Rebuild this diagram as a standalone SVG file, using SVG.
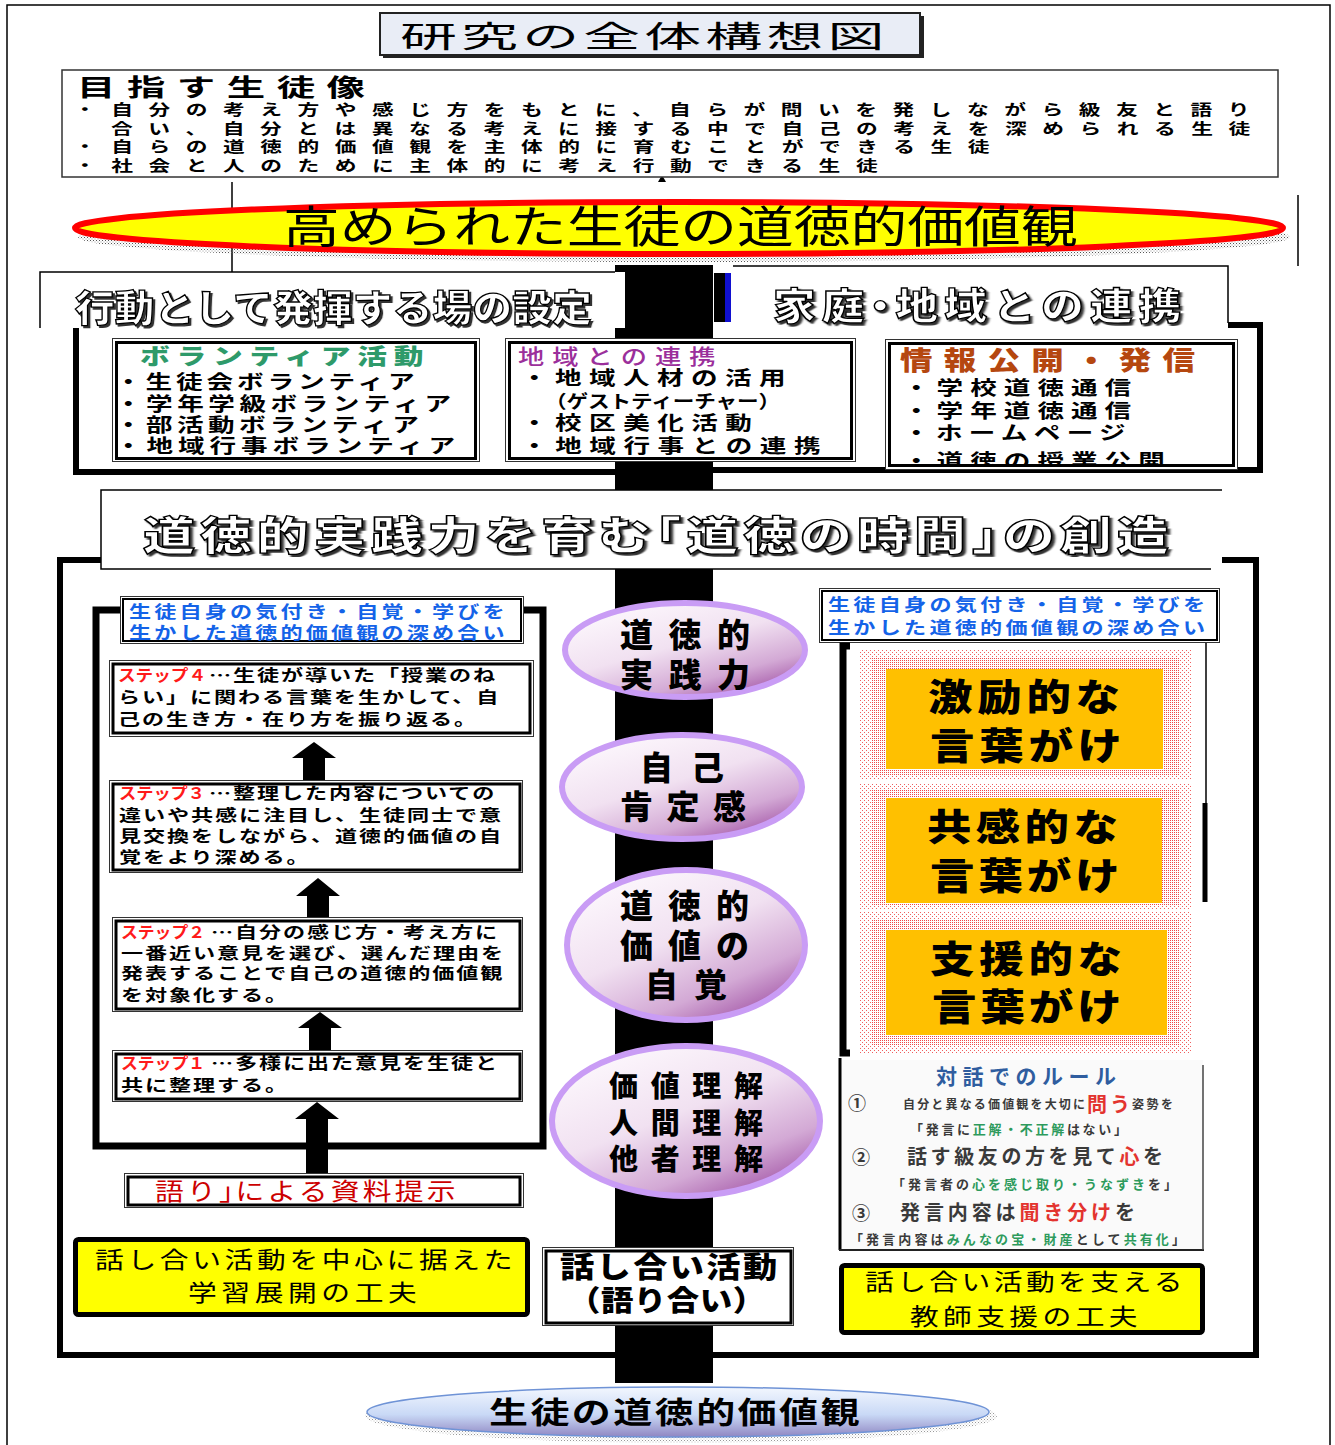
<svg xmlns="http://www.w3.org/2000/svg" width="1335" height="1445" viewBox="0 0 1335 1445">
<style>
text{font-family:"Noto Sans CJK JP","Noto Sans CJK SC",sans-serif;fill:#000}
.r{font-weight:400}
.b{font-weight:700}
.h{font-weight:900}
.thin{fill:none;stroke:#000;stroke-width:1.5}
.thick{fill:none;stroke:#000;stroke-width:6}
.bo{fill:#fff;stroke:#333;stroke-width:1}
.bi{fill:none;stroke:#000;stroke-width:3}
.outl{fill:#fff;stroke:#000;stroke-width:1.3;font-weight:900;filter:url(#sh)}
.ell{stroke:#c99cf5;stroke-width:6;fill:url(#gPurple)}
.et{font-weight:900;font-size:33px}
.et4{font-weight:900;font-size:29px}
.st{font-weight:700;font-size:16px}
.red{fill:#ff1a1a}
.blue{fill:#1463e8;font-weight:700;font-size:17px}
.org{font-weight:900;font-size:37px}
.ylw{fill:#ffff00;stroke:#000;stroke-width:5}
.rule{font-weight:700;fill:#3a3a3a}
.gr{fill:#2d9a5c}
.rd{fill:#e3342f}
.aim{font-weight:700;font-size:15px;letter-spacing:10.7px}
.itm{font-weight:700;font-size:19px}
</style>
<defs>
<filter id="sh" x="-5%" y="-20%" width="110%" height="140%"><feDropShadow dx="2" dy="2" stdDeviation="0.7" flood-color="#333"/></filter>
<linearGradient id="gPurple" x1="0.15" y1="0" x2="0.85" y2="1"><stop offset="0" stop-color="#fefafe"/><stop offset="0.45" stop-color="#f1e1f1"/><stop offset="0.75" stop-color="#d3a9d5"/><stop offset="1" stop-color="#9c4aa0"/></linearGradient>
<linearGradient id="gBlue" x1="0" y1="0" x2="0" y2="1"><stop offset="0" stop-color="#f3f7fe"/><stop offset="0.55" stop-color="#c9d9f6"/><stop offset="1" stop-color="#8f86c2"/></linearGradient>
<pattern id="pDense" width="2" height="2" patternUnits="userSpaceOnUse"><rect width="1" height="1" fill="#f04848"/></pattern>
<pattern id="pSparse" width="4" height="4" patternUnits="userSpaceOnUse"><rect width="1" height="1" fill="#f06060"/><rect x="2" y="2" width="1" height="1" fill="#f06060"/></pattern>
<pattern id="pGray" width="3" height="3" patternUnits="userSpaceOnUse"><rect width="1" height="1" fill="#555"/><rect x="1.5" y="1.5" width="1" height="1" fill="#999"/></pattern>
<clipPath id="cInfo"><rect x="889" y="343" width="346" height="124"/></clipPath>
</defs>
<rect width="1335" height="1445" fill="#fff"/>
<path class="thin" d="M7 1445V5H1330V1445"/>

<g id="connectors">
<rect x="615" y="265" width="98" height="1118" fill="#000"/>
<path class="thin" d="M232 182V272M1298 195V266"/>
<polygon points="658,182 666,182 662,175" fill="#000"/>
<polygon points="292,758 314,742 336,758 325,758 325,780 303,780 303,758" fill="#000"/>
<polygon points="296,896 318,878 340,896 329,896 329,917 307,917 307,896" fill="#000"/>
<polygon points="298,1028 320,1012 342,1028 331,1028 331,1050 309,1050 309,1028" fill="#000"/>
<polygon points="295,1119 317,1102 339,1119 328,1119 328,1173 306,1173 306,1119" fill="#000"/>
</g>

<g id="title">
<rect x="383" y="16" width="541" height="42" fill="#222"/>
<rect x="380" y="13" width="540" height="42" fill="#e9edf6" stroke="#222" stroke-width="2"/>
<text class="r" font-size="30" transform="translate(400,47) scale(1.9,1)" textLength="255" lengthAdjust="spacing">研究の全体構想図</text>
</g>

<g id="aim">
<rect x="62" y="70" width="1216" height="107" fill="#fff" stroke="#333" stroke-width="1.5"/>
<text class="b" font-size="24" transform="translate(77,96) scale(1.6,1)" textLength="180" lengthAdjust="spacing">目指す生徒像</text>
<text class="aim" transform="translate(74,115) scale(1.45,1)">・自分の考え方や感じ方をもとに、自らが問いを発しながら級友と語り</text>
<text class="aim" transform="translate(111,134) scale(1.45,1)">合い、自分とは異なる考えに接する中で自己の考えを深められる生徒</text>
<text class="aim" transform="translate(74,152) scale(1.45,1)">・自らの道徳的価値観を主体的に育むことができる生徒</text>
<text class="aim" transform="translate(74,171) scale(1.45,1)">・社会と人のために主体的に考え行動できる生徒</text>
</g>

<g id="goal">
<ellipse cx="684" cy="237" rx="606" ry="25" fill="url(#pGray)"/>
<ellipse cx="679" cy="228" rx="604" ry="26" fill="#ffff00" stroke="#ff0000" stroke-width="6"/>
<text class="r" font-size="44" transform="translate(283,243) scale(1.29,1)" textLength="616" lengthAdjust="spacing">高められた生徒の道徳的価値観</text>
</g>

<g id="sec-action">
<rect x="40" y="272" width="585" height="56" fill="#fff"/>
<path class="thin" d="M40 328V272H615"/>
<text class="outl" font-size="37" transform="translate(75,322) scale(1.07,1)" textLength="483" lengthAdjust="spacing">行動として発揮する場の設定</text>
<path class="thick" d="M76 328V472H615"/>
</g>

<g id="sec-home">
<rect x="731" y="266" width="497" height="57" fill="#fff"/>
<rect x="714" y="273" width="11" height="49" fill="#000"/>
<rect x="725" y="273" width="6" height="49" fill="#1010d0"/>
<path class="thin" d="M733 266H1228V323"/>
<text class="outl" font-size="37" letter-spacing="5.4" transform="translate(773,320) scale(1.15,1)">家<tspan letter-spacing="-4.6">庭</tspan><tspan letter-spacing="-5.3">・</tspan>地域との連携</text>
<path class="thick" d="M713 470H1260V325H1228"/>
</g>

<g id="volunteer">
<rect class="bo" x="112.5" y="338.5" width="367" height="123"/>
<rect class="bi" x="116.5" y="342.5" width="359" height="116"/>
<text class="h" font-size="22" style="fill:#2e9a6a" transform="translate(140,364) scale(1.35,1)" textLength="210" lengthAdjust="spacing">ボランティア活動</text>
<text class="itm" transform="translate(115,389) scale(1.4,1)" textLength="214" lengthAdjust="spacing">・生徒会ボランティア</text>
<text class="itm" transform="translate(115,411) scale(1.4,1)" textLength="240" lengthAdjust="spacing">・学年学級ボランティア</text>
<text class="itm" transform="translate(115,432) scale(1.4,1)" textLength="217" lengthAdjust="spacing">・部活動ボランティア</text>
<text class="itm" transform="translate(115,453) scale(1.4,1)" textLength="243" lengthAdjust="spacing">・地域行事ボランティア</text>
</g>

<g id="community">
<rect class="bo" x="505.5" y="338.5" width="350" height="123"/>
<rect class="bi" x="509.5" y="342.5" width="342" height="116"/>
<text font-size="21" style="fill:#9b2f9b;font-weight:500" transform="translate(518,364) scale(1.25,1)" textLength="158" lengthAdjust="spacing">地域との連携</text>
<text class="itm" transform="translate(521,385) scale(1.4,1)" textLength="189" lengthAdjust="spacing">・地域人材の活用</text>
<text class="itm" style="font-size:18px" transform="translate(545,408) scale(1.2,1)" textLength="196" lengthAdjust="spacing">（ゲストティーチャー）</text>
<text class="itm" transform="translate(521,430) scale(1.4,1)" textLength="165" lengthAdjust="spacing">・校区美化活動</text>
<text class="itm" transform="translate(521,453) scale(1.4,1)" textLength="214" lengthAdjust="spacing">・地域行事との連携</text>
</g>

<g id="info">
<rect class="bo" x="885.5" y="339.5" width="352" height="130"/>
<rect x="889.5" y="343.5" width="344" height="122" fill="#fff"/>
<text class="h" font-size="26" style="fill:#b5470f" transform="translate(900,370) scale(1.25,1)" textLength="236" lengthAdjust="spacing">情報公開・発信</text>
<g clip-path="url(#cInfo)">
<text class="itm" transform="translate(903,395) scale(1.4,1)" textLength="163" lengthAdjust="spacing">・学校道徳通信</text>
<text class="itm" transform="translate(903,418) scale(1.4,1)" textLength="163" lengthAdjust="spacing">・学年道徳通信</text>
<text class="itm" transform="translate(903,440) scale(1.4,1)" textLength="159" lengthAdjust="spacing">・ホームページ</text>
<text class="itm" transform="translate(903,468) scale(1.4,1)" textLength="187" lengthAdjust="spacing">・道徳の授業公開</text>
</g>
<rect class="bi" x="889.5" y="343.5" width="344" height="122"/>
</g>

<g id="sec-class">
<rect x="101" y="490" width="1121" height="79" fill="#fff"/>
<path class="thin" d="M1222 490H101V569H1211"/>
<text class="outl" font-size="40" letter-spacing="3.8" transform="translate(143,550) scale(1.3,1)">道徳的実践力を育<tspan letter-spacing="-16.2">む</tspan>「道徳の時間</text>
<text class="outl" font-size="40" letter-spacing="3.8" transform="translate(972,550) scale(1.3,1)"><tspan letter-spacing="-16.2">」</tspan>の創造</text>
<path class="thick" d="M101 560H60V1355H1256V560H1222"/>
</g>

<g id="left-panel">
<path fill="none" stroke="#000" stroke-width="7" d="M121 610H96V1146H543V610H523"/>
<rect class="bo" x="120.5" y="596.5" width="403" height="47"/>
<rect x="123" y="599" width="398" height="42" fill="none" stroke="#000" stroke-width="2"/>
<text class="blue" transform="translate(129,618) scale(1.3,1)" textLength="289" lengthAdjust="spacing">生徒自身の気付き・自覚・学びを</text>
<text class="blue" transform="translate(129,639) scale(1.3,1)" textLength="289" lengthAdjust="spacing">生かした道徳的価値観の深め合い</text>
</g>

<g id="step4">
<rect class="bo" x="109.5" y="660.5" width="424" height="76"/>
<rect class="bi" x="113" y="664" width="417" height="69"/>
<text class="st red" textLength="88" lengthAdjust="spacingAndGlyphs" x="118" y="681">ステップ４</text>
<text class="st" letter-spacing="1.4" transform="translate(209,681) scale(1.38,1)">…生徒が導いた「授業のね</text>
<text class="st" letter-spacing="1.4" transform="translate(118,703) scale(1.38,1)">らい」に関わる言葉を生かして、自</text>
<text class="st" letter-spacing="1.4" transform="translate(118,725) scale(1.38,1)">己の生き方・在り方を振り返る。</text>
</g>

<g id="step3">
<rect class="bo" x="109.5" y="780.5" width="413" height="92"/>
<rect class="bi" x="113" y="784" width="407" height="86"/>
<text class="st red" textLength="86" lengthAdjust="spacingAndGlyphs" x="119" y="799">ステップ３</text>
<text class="st" letter-spacing="1.4" transform="translate(209,799) scale(1.38,1)">…整理した内容についての</text>
<text class="st" letter-spacing="1.4" transform="translate(119,821) scale(1.38,1)">違いや共感に注目し、生徒同士で意</text>
<text class="st" letter-spacing="1.4" transform="translate(119,842) scale(1.38,1)">見交換をしながら、道徳的価値の自</text>
<text class="st" letter-spacing="1.4" transform="translate(119,863) scale(1.38,1)">覚をより深める。</text>
</g>

<g id="step2">
<rect class="bo" x="112.5" y="917.5" width="410" height="94"/>
<rect class="bi" x="116" y="921" width="404" height="88"/>
<text class="st red" textLength="84" lengthAdjust="spacingAndGlyphs" x="121" y="938">ステップ２</text>
<text class="st" letter-spacing="1.4" transform="translate(211,938) scale(1.38,1)">…自分の感じ方・考え方に</text>
<text class="st" letter-spacing="1.4" transform="translate(121,959) scale(1.38,1)">一番近い意見を選び、選んだ理由を</text>
<text class="st" letter-spacing="1.4" transform="translate(121,979) scale(1.38,1)">発表することで自己の道徳的価値観</text>
<text class="st" letter-spacing="1.4" transform="translate(121,1001) scale(1.38,1)">を対象化する。</text>
</g>

<g id="step1">
<rect class="bo" x="112.5" y="1050.5" width="410" height="51"/>
<rect class="bi" x="116" y="1054" width="404" height="45"/>
<text class="st red" textLength="84" lengthAdjust="spacingAndGlyphs" x="121" y="1069">ステップ１</text>
<text class="st" letter-spacing="1.4" transform="translate(211,1069) scale(1.38,1)">…多様に出た意見を生徒と</text>
<text class="st" letter-spacing="1.4" transform="translate(121,1091) scale(1.38,1)">共に整理する。</text>
</g>

<g id="material">
<rect class="bo" x="124.5" y="1173.5" width="399" height="34"/>
<rect class="bi" x="128" y="1177" width="392" height="28"/>
<text class="r" font-size="24" letter-spacing="2.7" style="fill:#cc0000" transform="translate(155,1200) scale(1.2,1)">語り<tspan letter-spacing="-10.3">」</tspan>による資料提示</text>
</g>

<g id="left-yellow">
<rect class="ylw" x="75.5" y="1239.5" width="452" height="75" rx="3"/>
<text class="r" font-size="23" transform="translate(95,1268) scale(1.25,1)" textLength="334" lengthAdjust="spacing">話し合い活動を中心に据えた</text>
<text class="r" font-size="23" transform="translate(188,1301) scale(1.25,1)" textLength="183" lengthAdjust="spacing">学習展開の工夫</text>
</g>

<g id="talk">
<rect x="542.5" y="1247.5" width="251" height="78" fill="#fff" stroke="#333" stroke-width="1"/>
<rect x="546" y="1251" width="245" height="72" fill="none" stroke="#000" stroke-width="3"/>
<text class="h" font-size="29" transform="translate(560,1278) scale(1.18,1)" textLength="184" lengthAdjust="spacing">話し合い活動</text>
<text class="h" font-size="29" transform="translate(568,1311) scale(1.12,1)" textLength="176" lengthAdjust="spacing">（語り合い）</text>
</g>

<g id="e-practice">
<ellipse class="ell" cx="685" cy="650" rx="120" ry="47"/>
<text class="et" x="620" y="647" textLength="130" lengthAdjust="spacing">道徳的</text>
<text class="et" x="620" y="687" textLength="130" lengthAdjust="spacing">実践力</text>
</g>
<g id="e-esteem">
<ellipse class="ell" cx="682" cy="787" rx="120" ry="52"/>
<text class="et" x="640" y="780" textLength="84" lengthAdjust="spacing">自己</text>
<text class="et" x="620" y="819" textLength="126" lengthAdjust="spacing">肯定感</text>
</g>
<g id="e-awareness">
<ellipse class="ell" cx="686" cy="945" rx="119" ry="75"/>
<text class="et" x="620" y="918" textLength="129" lengthAdjust="spacing">道徳的</text>
<text class="et" x="620" y="958" textLength="129" lengthAdjust="spacing">価値の</text>
<text class="et" x="645" y="997" textLength="82" lengthAdjust="spacing">自覚</text>
</g>
<g id="e-understanding">
<ellipse class="ell" cx="686" cy="1121" rx="134" ry="75"/>
<text class="et4" x="609" y="1097" textLength="154" lengthAdjust="spacing">価値理解</text>
<text class="et4" x="609" y="1134" textLength="154" lengthAdjust="spacing">人間理解</text>
<text class="et4" x="609" y="1170" textLength="154" lengthAdjust="spacing">他者理解</text>
</g>

<g id="right-panel">
<rect class="bo" x="819.5" y="588.5" width="400" height="54"/>
<rect x="822" y="591" width="395" height="49" fill="none" stroke="#000" stroke-width="2"/>
<text class="blue" transform="translate(828,611) scale(1.3,1)" textLength="290" lengthAdjust="spacing">生徒自身の気付き・自覚・学びを</text>
<text class="blue" transform="translate(828,634) scale(1.3,1)" textLength="290" lengthAdjust="spacing">生かした道徳的価値観の深め合い</text>
<path fill="none" stroke="#000" stroke-width="7" d="M850 646H843V1053H850"/>
<path class="thin" d="M1206 643V803"/>
<path fill="none" stroke="#000" stroke-width="5" d="M1205 803V902"/>
</g>

<g id="encourage">
<rect x="860" y="650" width="332" height="130" fill="url(#pSparse)"/>
<rect x="872" y="658" width="308" height="118" fill="url(#pDense)"/>
<rect x="886" y="669" width="277" height="100" fill="#ffc000"/>
<text class="org" transform="translate(928,711) scale(1.2,1)" textLength="160" lengthAdjust="spacing">激励的な</text>
<text class="org" transform="translate(930,760) scale(1.2,1)" textLength="160" lengthAdjust="spacing">言葉がけ</text>
</g>
<g id="empathy">
<rect x="860" y="783" width="332" height="126" fill="url(#pSparse)"/>
<rect x="872" y="790" width="308" height="116" fill="url(#pDense)"/>
<rect x="886" y="798" width="276" height="105" fill="#ffc000"/>
<text class="org" transform="translate(927,841) scale(1.2,1)" textLength="159" lengthAdjust="spacing">共感的な</text>
<text class="org" transform="translate(930,890) scale(1.2,1)" textLength="158" lengthAdjust="spacing">言葉がけ</text>
</g>
<g id="support">
<rect x="860" y="912" width="332" height="141" fill="url(#pSparse)"/>
<rect x="872" y="920" width="308" height="126" fill="url(#pDense)"/>
<rect x="886" y="930" width="281" height="105" fill="#ffc000"/>
<text class="org" transform="translate(930,973) scale(1.2,1)" textLength="160" lengthAdjust="spacing">支援的な</text>
<text class="org" transform="translate(932,1021) scale(1.2,1)" textLength="158" lengthAdjust="spacing">言葉がけ</text>
</g>

<g id="rules">
<rect x="839" y="1060" width="364" height="190" fill="#fafafa"/>
<path fill="none" stroke="#000" stroke-width="3" d="M840 1058V1250"/>
<path fill="none" stroke="#222" stroke-width="2" d="M839 1250H1204"/>
<path fill="none" stroke="#444" stroke-width="1.5" d="M1203 1065V1250"/>
<text class="b" font-size="21" style="fill:#2f5d9f" x="936" y="1084" textLength="180" lengthAdjust="spacing">対話でのルール</text>
<text class="rule" font-size="18" x="848" y="1110">①</text>
<text class="rule" font-size="12" x="903" y="1109" textLength="182" lengthAdjust="spacing">自分と異なる価値観を大切に</text>
<text class="rule rd" font-size="20" x="1087" y="1112" textLength="43" lengthAdjust="spacing">問う</text>
<text class="rule" font-size="12" x="1132" y="1109" textLength="41" lengthAdjust="spacing">姿勢を</text>
<text class="rule" font-size="13" x="910" y="1134" textLength="217" lengthAdjust="spacing">「発言に<tspan class="gr">正解・不正解</tspan>はない」</text>
<text class="rule" font-size="18" x="852" y="1164">②</text>
<text class="rule" font-size="20" x="907" y="1164" textLength="256" lengthAdjust="spacing">話す級友の方を見て<tspan class="rd">心</tspan>を</text>
<text class="rule" font-size="13" x="892" y="1189" textLength="285" lengthAdjust="spacing">「発言者の<tspan class="gr">心を感じ取り・うなずき</tspan>を」</text>
<text class="rule" font-size="18" x="852" y="1220">③</text>
<text class="rule" font-size="20" x="900" y="1220" textLength="235" lengthAdjust="spacing">発言内容は<tspan class="rd">聞き分け</tspan>を</text>
<text class="rule" font-size="13" x="850" y="1244" textLength="335" lengthAdjust="spacing">「発言内容は<tspan class="gr">みんなの宝・財産</tspan>として<tspan class="gr">共有化</tspan>」</text>
</g>

<g id="right-yellow">
<rect class="ylw" x="841.5" y="1265.5" width="361" height="67" rx="3"/>
<text class="r" font-size="23" transform="translate(865,1290) scale(1.25,1)" textLength="254" lengthAdjust="spacing">話し合い活動を支える</text>
<text class="r" font-size="23" transform="translate(910,1325) scale(1.25,1)" textLength="182" lengthAdjust="spacing">教師支援の工夫</text>
</g>

<g id="values">
<ellipse cx="681" cy="1416" rx="316" ry="27" fill="url(#pGray)" opacity="0.6"/>
<ellipse cx="678" cy="1412" rx="311" ry="25" fill="url(#gBlue)" stroke="#6f93d6" stroke-width="1.5"/>
<text class="b" font-size="30" transform="translate(489,1423) scale(1.3,1)" textLength="285" lengthAdjust="spacing">生徒の道徳的価値観</text>
</g>
</svg>
